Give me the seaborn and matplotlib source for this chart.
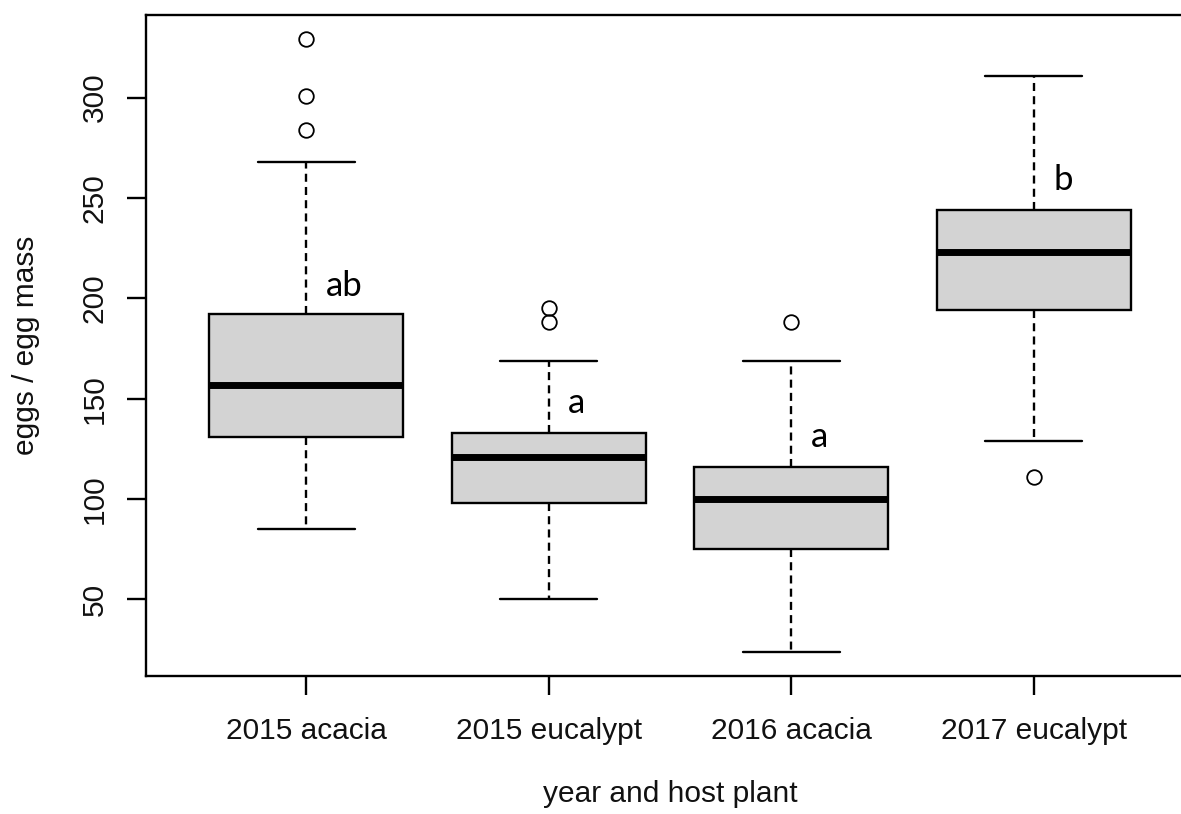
import matplotlib
matplotlib.use("Agg")
import matplotlib.pyplot as plt
import seaborn as sns

# five-number summaries
groups = ["2015 acacia", "2015 eucalypt", "2016 acacia", "2017 eucalypt"]
lower_whisker = [85, 50, 24, 129]
q1 = [131, 98, 75, 194]
median = [157, 121, 100, 223]
q3 = [192, 133, 116, 244]
upper_whisker = [268, 169, 169, 311]
outliers = [[284, 301, 329], [188, 195], [188], [111]]

# significance letters
letters = ["ab", "a", "a", "b"]
letter_y = [201, 143, 126, 254]

sns.set_theme(style="white")
plt.rcParams['font.family'] = ['Liberation Sans', 'DejaVu Sans']

stats = []
for i, g in enumerate(groups):
    stats.append(dict(label=g, whislo=lower_whisker[i], q1=q1[i], med=median[i],
                      q3=q3[i], whishi=upper_whisker[i], fliers=outliers[i]))

fig = plt.figure(figsize=(11.81, 8.14), dpi=100)
ax = fig.add_axes([146 / 1181, 1 - 676 / 814, (1194 - 146) / 1181, (676 - 15) / 814])

lw = 1.7
positions = [1, 2, 3, 4]
ax.bxp(stats, positions=positions, widths=0.8, capwidths=0.4, patch_artist=True,
       boxprops=dict(facecolor='#d3d3d3', edgecolor='black', linewidth=lw),
       medianprops=dict(color='black', linewidth=5, solid_capstyle='butt'),
       whiskerprops=dict(color='black', linewidth=lw, linestyle=(0, (3.4, 2.2))),
       capprops=dict(color='black', linewidth=lw),
       flierprops=dict(marker='o', markerfacecolor='none', markeredgecolor='black',
                       markersize=10.5, markeredgewidth=1.3))

for pos, txt, y in zip(positions, letters, letter_y):
    ax.text(pos + 0.08, y, txt, ha='left', va='baseline', fontsize=25,
            family=['Lato', 'DejaVu Sans'], color='black')

ax.set_xlim(0.34, 4.66)
ax.set_ylim(11.8, 341.2)
ax.set_xticks(positions)
ax.set_xticklabels(groups)
ax.set_yticks([50, 100, 150, 200, 250, 300])
for lab in ax.get_yticklabels():
    lab.set_rotation(90)
    lab.set_va('center')

ax.tick_params(axis='x', pad=16)
ax.tick_params(axis='y', pad=13)
ax.tick_params(axis='both', direction='out', length=13.7, width=lw,
               labelsize=21.5, color='black', labelcolor='#111111',
               bottom=True, left=True)
for sp in ax.spines.values():
    sp.set_visible(True)
    sp.set_color('black')
    sp.set_linewidth(lw)

ax.set_xlabel("year and host plant", fontsize=21.5, color='#111111')
ax.set_ylabel("eggs / egg mass", fontsize=21.5, color='#111111')
ax.xaxis.set_label_coords(0.5, -0.158)
ax.yaxis.set_label_coords(-0.101, 0.5)

fig.savefig("out.png", dpi=100)
